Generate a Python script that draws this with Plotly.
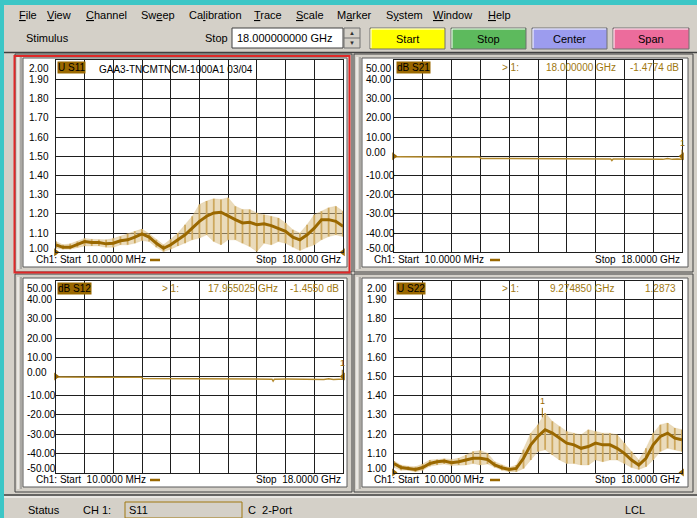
import plotly.graph_objects as go

W, H = 697, 518

# ---------------- data ----------------
FREQ = [0.01, 0.45, 0.9, 1.35, 1.8, 2.25, 2.7, 3.15, 3.6, 4.05, 4.5, 4.95, 5.4, 5.85,
        6.3, 6.75, 7.2, 7.65, 8.1, 8.55, 9.0, 9.45, 9.9, 10.35, 10.8, 11.25, 11.7,
        12.15, 12.6, 13.05, 13.5, 13.95, 14.4, 14.85, 15.3, 15.75, 16.2, 16.65,
        17.1, 17.55, 18.0]

s11_mid = [1.039, 1.026, 1.026, 1.039, 1.056, 1.051, 1.051, 1.044, 1.047, 1.060,
           1.065, 1.079, 1.096, 1.079, 1.047, 1.021, 1.039, 1.065, 1.091, 1.126,
           1.161, 1.188, 1.205, 1.209, 1.188, 1.170, 1.153, 1.156, 1.144, 1.149,
           1.139, 1.126, 1.109, 1.079, 1.065, 1.091, 1.126, 1.170, 1.170, 1.161, 1.135]
s11_hi = [1.056, 1.039, 1.044, 1.056, 1.072, 1.068, 1.065, 1.065, 1.072, 1.082,
          1.096, 1.109, 1.121, 1.096, 1.065, 1.039, 1.068, 1.100, 1.144, 1.188,
          1.249, 1.267, 1.279, 1.275, 1.284, 1.240, 1.223, 1.223, 1.205, 1.196,
          1.188, 1.179, 1.153, 1.118, 1.100, 1.144, 1.196, 1.214, 1.232, 1.240, 1.214]
s11_lo = [1.021, 1.016, 1.016, 1.026, 1.033, 1.033, 1.033, 1.026, 1.026, 1.039,
          1.039, 1.047, 1.061, 1.056, 1.026, 1.004, 1.016, 1.033, 1.047, 1.065,
          1.074, 1.091, 1.056, 1.039, 1.065, 1.065, 1.047, 1.030, 1.004, 1.047,
          1.039, 1.056, 1.047, 1.026, 1.009, 1.026, 1.039, 1.065, 1.082, 1.091, 1.082]

s22_mid = [1.047, 1.026, 1.021, 1.016, 1.026, 1.047, 1.056, 1.060, 1.051, 1.056,
           1.065, 1.074, 1.074, 1.068, 1.039, 1.025, 1.016, 1.021, 1.074, 1.144,
           1.188, 1.223, 1.205, 1.179, 1.153, 1.144, 1.126, 1.135, 1.153, 1.144,
           1.144, 1.126, 1.100, 1.065, 1.039, 1.074, 1.144, 1.188, 1.205, 1.179, 1.170]
s22_hi = [1.060, 1.039, 1.033, 1.030, 1.044, 1.065, 1.068, 1.072, 1.068, 1.074,
          1.091, 1.109, 1.114, 1.100, 1.056, 1.039, 1.026, 1.039, 1.118, 1.205,
          1.249, 1.310, 1.267, 1.240, 1.214, 1.205, 1.196, 1.223, 1.214, 1.205,
          1.205, 1.196, 1.153, 1.109, 1.065, 1.126, 1.205, 1.249, 1.258, 1.232, 1.223]
s22_lo = [1.026, 1.012, 1.012, 1.002, 1.012, 1.033, 1.039, 1.044, 1.037, 1.039,
          1.039, 1.047, 1.039, 1.044, 1.026, 1.012, 1.004, 1.004, 1.021, 1.065,
          1.109, 1.118, 1.091, 1.065, 1.047, 1.047, 1.039, 1.039, 1.065, 1.056,
          1.065, 1.065, 1.047, 1.026, 1.016, 1.030, 1.065, 1.109, 1.126, 1.118, 1.109]

THRU_FREQ = [0.01, 0.8, 1.6, 2.4, 3.2, 4.0, 4.8, 5.35, 5.45, 6.2, 7.0, 8.0, 9.0,
             10.0, 11.0, 12.0, 13.0, 13.55, 13.62, 13.7, 14.5, 15.5, 16.2, 16.5,
             16.8, 17.1, 17.4, 17.7, 18.0]
s21_db = [-0.2, -0.3, -0.3, -0.3, -0.3, -0.3, -0.3, -0.3, -1.1, -1.15, -1.2, -1.2,
          -1.25, -1.25, -1.3, -1.3, -1.35, -1.4, -2.2, -1.4, -1.35, -1.4, -1.4,
          -1.2, -1.6, -1.2, -1.6, -1.4, -1.4774]
s12_db = [-0.3, -0.4, -0.4, -0.4, -0.4, -0.4, -0.4, -0.4, -1.1, -1.15, -1.2, -1.2,
          -1.25, -1.25, -1.3, -1.3, -1.35, -1.4, -2.4, -1.4, -1.35, -1.4, -1.4,
          -1.2, -1.6, -1.2, -1.6, -1.4, -1.455]

SWR_TICKS = [2.0, 1.9, 1.8, 1.7, 1.6, 1.5, 1.4, 1.3, 1.2, 1.1, 1.0]
SWR_LABELS = ["2.00", "1.90", "1.80", "1.70", "1.60", "1.50", "1.40", "1.30", "1.20", "1.10", "1.00"]
DB_TICKS = [50, 40, 30, 20, 10, 0, -10, -20, -30, -40, -50]
DB_LABELS = ["50.00", "40.00", "30.00", "20.00", "10.00", "0.00", "-10.00", "-20.00", "-30.00", "-40.00", "-50.00"]

MENU = ["<u>F</u>ile", "<u>V</u>iew", "<u>C</u>hannel", "Sw<u>e</u>ep", "Ca<u>l</u>ibration",
        "<u>T</u>race", "<u>S</u>cale", "M<u>a</u>rker", "S<u>y</u>stem", "<u>W</u>indow", "<u>H</u>elp"]
BUTTONS = ["Start", "Stop", "Center", "Span"]

# markers: (freq, value)
M_S21 = (18.0, -1.4774)
M_S12 = (17.955025, -1.4550)
M_S22 = (9.274850, 1.2873)

# ---------------- styling ----------------
FONT = "Liberation Sans"
GRAY = "#D4D0C8"
DARK = "#9A6800"
LIGHT = "rgba(217,189,132,0.55)"
SPIKE = "#CDA85E"
GOLDTXT = "#A07810"
GRID = "#1E1E1E"

def X(px):
    return px / W

def Y(py):
    return 1 - py / H

shapes = []
ann = []

def rect(x0, y0, x1, y1, fill=None, line=None, lw=1, layer="below"):
    shapes.append(dict(type="rect", xref="paper", yref="paper",
                       x0=X(x0), x1=X(x1), y0=Y(y1), y1=Y(y0),
                       fillcolor=fill if fill else "rgba(0,0,0,0)",
                       line=dict(color=line if line else "rgba(0,0,0,0)", width=lw if line else 0),
                       layer=layer))

def hline(x0, x1, y, color, lw=1):
    shapes.append(dict(type="line", xref="paper", yref="paper", x0=X(x0), x1=X(x1),
                       y0=Y(y), y1=Y(y), line=dict(color=color, width=lw), layer="below"))

def vline(x, y0, y1, color, lw=1):
    shapes.append(dict(type="line", xref="paper", yref="paper", x0=X(x), x1=X(x),
                       y0=Y(y0), y1=Y(y1), line=dict(color=color, width=lw), layer="below"))

def text(x, y, s, size=11, color="black", anchor="left", bg=None):
    ann.append(dict(x=X(x), y=Y(y), xref="paper", yref="paper", text=s, showarrow=False,
                    xanchor=anchor, yanchor="middle", font=dict(family=FONT, size=size, color=color),
                    bgcolor=bg, borderpad=0))

# ---------------- window chrome ----------------
rect(0, 0, W, 5, "#3CC6C6")
rect(0, 0, 4, H, "#3CC6C6")

# menu
menu_x = [18, 46, 85, 140, 188, 253, 295, 336, 385, 432, 487]
for mx, m in zip(menu_x, MENU):
    text(mx, 15, m, 11)

# toolbar
text(25, 38, "Stimulus", 11)
text(204, 38, "Stop", 11)
rect(232, 28, 343, 48, "white", "#404040")
text(236, 38, "18.000000000 GHz", 11)
rect(344, 28, 360, 48, GRAY, "#707070")
hline(344, 360, 38, "#707070")
text(352, 33, "▲", 6, "#303030", "center")
text(352, 43, "▼", 6, "#303030", "center")

btn_x = [(370, 445), (451, 526), (532, 607), (613, 689)]
btn_c = ["#FFFF00", "#5DBA5D", "#9C9CEE", "#EC6C9C"]
for (bx0, bx1), c, b in zip(btn_x, btn_c, BUTTONS):
    rect(bx0, 28, bx1, 49, c, "#707070")
    hline(bx0 + 1, bx1 - 1, 29, "white")
    vline(bx0 + 1, 29, 48, "white")
    text((bx0 + bx1) / 2, 39, b, 11, "black", "center")

hline(4, W, 52.5, "#404040", 1.5)

# ---------------- panels ----------------
panels = [(24, 59, 346, 266), (363, 59, 687, 266), (24, 279, 346, 486), (363, 279, 687, 486)]
for (x0, y0, x1, y1) in panels:
    rect(x0 - 9, y0 - 5, x1 + 6, y1 + 6, GRAY, "#404040")
    vline(x0 - 6, y0 - 2, y1 + 3, "white")
    vline(x0 - 3, y0 - 2, y1 + 3, "#808080")
    rect(x0 - 1, y0 - 1, x1 + 1, y1 + 1, "white", "#5A5A5A")
# active red frame
rect(14.5, 56, 349.5, 272.5, None, "#E02828", 2)

# status bar
hline(4, W, 495, "#404040", 1.5)
hline(4, W, 497, "white", 1)
text(27, 510, "Status", 11)
text(82, 510, "CH 1:", 11)
rect(125, 502, 242, 518, None, "#A07810", 1)
text(128, 510, "S11", 11)
text(247, 510, "C  2-Port", 11)
text(624, 510, "LCL", 11)

# ---------------- plots ----------------
fig = go.Figure()

doms = {
    "S11": ([56, 343], [60.3, 252.3]),
    "S21": ([394, 682], [60.3, 252.3]),
    "S12": ([56, 343], [280.5, 472.5]),
    "S22": ([394, 682], [280.5, 472.5]),
}
keys = ["S11", "S21", "S12", "S22"]
layout_axes = {}
for i, k in enumerate(keys, start=1):
    (xa, xb), (ya, yb) = doms[k]
    swr = k in ("S11", "S22")
    xn = "xaxis" if i == 1 else f"xaxis{i}"
    yn = "yaxis" if i == 1 else f"yaxis{i}"
    layout_axes[xn] = dict(domain=[X(xa), X(xb)], range=[0.01, 18.0], tick0=0.01, dtick=1.799,
                           showgrid=True, gridcolor=GRID, gridwidth=1, showticklabels=False,
                           ticks="", zeroline=False, showline=True, linecolor=GRID, mirror=True,
                           anchor=f"y{i}" if i > 1 else "y", fixedrange=True)
    layout_axes[yn] = dict(domain=[Y(yb), Y(ya)], range=[1.0, 2.0] if swr else [-50, 50],
                           dtick=0.1 if swr else 10, tick0=1.0 if swr else 0,
                           showgrid=True, gridcolor=GRID, gridwidth=1, showticklabels=False,
                           ticks="", zeroline=False, showline=True, linecolor=GRID, mirror=True,
                           anchor=f"x{i}" if i > 1 else "x", fixedrange=True)

def ax(i):
    return ("x" if i == 1 else f"x{i}"), ("y" if i == 1 else f"y{i}")

def swr_traces(i, mid, hi, lo):
    xr, yr = ax(i)
    fig.add_trace(go.Scatter(x=FREQ, y=lo, mode="lines", line=dict(color=LIGHT, width=0.5),
                             xaxis=xr, yaxis=yr, showlegend=False, hoverinfo="skip"))
    fig.add_trace(go.Scatter(x=FREQ, y=hi, mode="lines", fill="tonexty", fillcolor=LIGHT,
                             line=dict(color=LIGHT, width=0.5), xaxis=xr, yaxis=yr,
                             showlegend=False, hoverinfo="skip"))
    sx, sy = [], []
    for f, a, b in zip(FREQ, lo, hi):
        sx += [f, f, None]
        sy += [a, b, None]
    fig.add_trace(go.Scatter(x=sx, y=sy, mode="lines", line=dict(color=SPIKE, width=1.8),
                             xaxis=xr, yaxis=yr, showlegend=False, hoverinfo="skip"))
    fig.add_trace(go.Scatter(x=FREQ, y=mid, mode="lines", line=dict(color=DARK, width=3),
                             xaxis=xr, yaxis=yr, showlegend=False, hoverinfo="skip"))
    fig.add_trace(go.Scatter(x=[0.01, 18.0], y=[1.0, 1.0], mode="markers",
                             marker=dict(symbol=["triangle-right", "triangle-left"], size=7, color=DARK),
                             cliponaxis=False, xaxis=xr, yaxis=yr, showlegend=False, hoverinfo="skip"))

def db_traces(i, vals):
    xr, yr = ax(i)
    fig.add_trace(go.Scatter(x=THRU_FREQ, y=vals, mode="lines", line=dict(color="#B48A2C", width=1.5),
                             xaxis=xr, yaxis=yr, showlegend=False, hoverinfo="skip"))
    fig.add_trace(go.Scatter(x=[0.01, 18.0], y=[0.0, 0.0], mode="markers",
                             marker=dict(symbol=["triangle-right", "triangle-left"], size=7, color=DARK),
                             cliponaxis=False, xaxis=xr, yaxis=yr, showlegend=False, hoverinfo="skip"))

swr_traces(1, s11_mid, s11_hi, s11_lo)
db_traces(2, s21_db)
db_traces(3, s12_db)
swr_traces(4, s22_mid, s22_hi, s22_lo)

# tick labels (left aligned like the instrument)
label_x = {"S11": 27, "S21": 364, "S12": 25, "S22": 365}
for i, k in enumerate(keys, start=1):
    xr, yr = ax(i)
    swr = k in ("S11", "S22")
    ticks = SWR_TICKS if swr else DB_TICKS
    labs = SWR_LABELS if swr else DB_LABELS
    for j, (t, l) in enumerate(zip(ticks, labs)):
        shift = -8 if j == 0 else (4 if j == len(ticks) - 1 else 0)
        if not swr and t == 0:
            shift = 4
        ann.append(dict(x=X(label_x[k]), xref="paper", y=t, yref=yr, text=l, showarrow=False,
                        xanchor="left", yanchor="middle", yshift=shift,
                        font=dict(family=FONT, size=10, color="black")))

# trace labels
tag = {"S11": ("U S11", 57, 68), "S21": ("dB S21", 396, 68), "S12": ("dB S12", 57, 288),
       "S22": ("U S22", 396, 288)}
for k, (s, tx, ty) in tag.items():
    text(tx, ty, s, 10, "black", "left", DARK)

text(98, 70, "GAA3-TNCMTNCM-1000A1 03/04", 10)

# marker readouts
text(501, 68, "&gt; 1:", 10, GOLDTXT)
text(545, 68, "18.000000 GHz", 10, GOLDTXT)
text(680, 68, "-1.4774 dB", 10, GOLDTXT, "right")
text(161, 288, "&gt; 1:", 10, GOLDTXT)
text(207, 288, "17.955025 GHz", 10, GOLDTXT)
text(340, 288, "-1.4550 dB", 10, GOLDTXT, "right")
text(501, 288, "&gt; 1:", 10, GOLDTXT)
text(549, 288, "9.274850 GHz", 10, GOLDTXT)
text(677, 288, "1.2873", 10, GOLDTXT, "right")

for i, (mf, mv) in zip([2, 3, 4], [M_S21, M_S12, M_S22]):
    xr, yr = ax(i)
    ann.append(dict(x=mf, y=mv, xref=xr, yref=yr, text="1", showarrow=True, arrowhead=0,
                    arrowcolor=DARK, arrowwidth=1, ax=0, ay=-16, standoff=0,
                    font=dict(family=FONT, size=9, color=DARK)))

# bottom stimulus rows
for (lx, dx, rx, ry) in [(35, 150, 342, 259), (373, 490, 681, 259), (35, 150, 342, 479), (373, 490, 681, 479)]:
    text(lx, ry, "Ch1: Start  10.0000 MHz", 10)
    hline(dx, dx + 10, ry + 1, DARK, 2.5)
    text(rx, ry, "Stop  18.0000 GHz", 10, "black", "right")

fig.update_layout(width=W, height=H, autosize=False, margin=dict(l=0, r=0, t=0, b=0),
                  paper_bgcolor=GRAY, plot_bgcolor="white", shapes=shapes, annotations=ann,
                  showlegend=False, **layout_axes)

fig.write_html("out.html", config={"displayModeBar": False, "staticPlot": True},
               post_script="document.body.style.margin='0';document.body.style.padding='0';"
                           "document.body.style.overflow='hidden';")
